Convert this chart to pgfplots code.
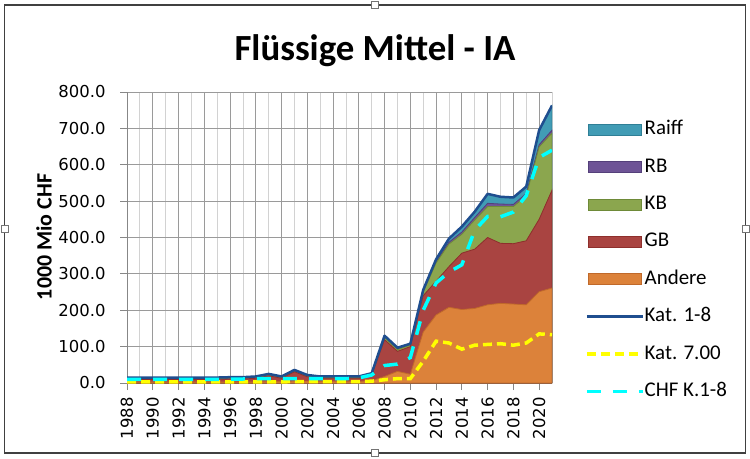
\documentclass[border=0pt]{standalone}
\usepackage{pgfplots}
\usepackage{pgfplotstable}
\pgfplotsset{compat=1.18}
\usepackage{fontspec}
\setmainfont{Carlito}
\newfontfamily\tickfont{DejaVu Sans}

\definecolor{andf}{HTML}{DC823A}
\definecolor{andd}{HTML}{C0692A}
\definecolor{gbf}{HTML}{A94441}
\definecolor{gbd}{HTML}{8E2F2C}
\definecolor{kbf}{HTML}{8BA64E}
\definecolor{kbd}{HTML}{6E8A38}
\definecolor{rbf}{HTML}{6E5496}
\definecolor{rbd}{HTML}{54407A}
\definecolor{raf}{HTML}{419CB5}
\definecolor{rad}{HTML}{2F7F96}
\definecolor{katc}{HTML}{1F4E8F}
\definecolor{yel}{HTML}{FFFF00}
\definecolor{cya}{HTML}{00FFFF}
\definecolor{gridd}{HTML}{9A9A9A}
\definecolor{gridl}{HTML}{D2D2D2}
\definecolor{axc}{HTML}{878787}

\pgfplotstableread{
year And GB KB RB Raiff Tot K7 CHF
1988 3 7 2 1 2 15 3 10
1989 3 7 2 1 2 15 3 10
1990 3 7 2 1 2 15 3 10
1991 3 7 2 1 2 15 3 10
1992 3 7 2 1 2 15 3 10
1993 3 7 2 1 2 15 3 10
1994 3 7 2 1 2 15 3 10
1995 3 7 2 1 2 15 3 10
1996 3 8 2 1 2 16 3 11
1997 3 8 2 1 2 16 3 11
1998 3 10 2 1 2 18 3 12
1999 4 16 2 1 2 25 3 12
2000 4 9 2 1 2 18 3 12
2001 5 26 2 1 2 36 4 12
2002 5 12 2 1 2 22 4 12
2003 4 9 2 1 2 18 4 12
2004 4 9 2 1 2 18 4 12
2005 4 9 2 1 2 18 4 12
2006 4 9 2 1 2 18 4 14
2007 6 16 2 1 2 27 5 22
2008 18 101 6 2 3 130 9 48
2009 32 55 5 2 3 97 12 52
2010 24 76 4 2 2 108 12 70
2011 140 100 10 3 3 256 60 200
2012 187 93 50 4 6 340 115 275
2013 208 112 62 5 10 397 110 305
2014 202 155 52 6 15 430 93 325
2015 205 163 80 7 16 471 104 420
2016 215 185 85 9 26 520 106 458
2017 219 165 101 7 20 512 108 457
2018 217 166 102 6 19 510 104 470
2019 215 176 124 6 19 540 110 515
2020 251 199 199 6 40 695 135 620
2021 261 269 157 8 68 763 133 640
}\datatable
\pgfplotstablecreatecol[expr={\thisrow{And}+\thisrow{GB}}]{cGB}\datatable
\pgfplotstablecreatecol[expr={\thisrow{cGB}+\thisrow{KB}}]{cKB}\datatable
\pgfplotstablecreatecol[expr={\thisrow{cKB}+\thisrow{RB}}]{cRB}\datatable
\pgfplotstablecreatecol[expr={\thisrow{cRB}+\thisrow{Raiff}}]{cRa}\datatable

\begin{document}
\begin{tikzpicture}
\useasboundingbox (0bp,0bp) rectangle (750bp,-459bp);
\draw[line width=1.2bp, black!75] (4.5bp,-5bp) rectangle (745.5bp,-453bp);
\foreach \px/\py in {375/-5,375/-453,4.5/-229,745.5/-229}
  \draw[fill=white, draw=black!55, line width=0.6bp] (\px bp-3.5bp,\py bp-3.5bp) rectangle (\px bp+3.5bp,\py bp+3.5bp);
\node[anchor=base, font=\bfseries\fontsize{37}{37}\selectfont] at (375bp,-60bp) {Flüssige Mittel - IA};
\node[rotate=90, font=\bfseries\fontsize{22}{22}\selectfont] at (44bp,-237bp) {1000 Mio CHF};
\begin{axis}[
  at={(127bp,-383bp)}, anchor=south west,
  scale only axis, width=425bp, height=291bp,
  xmin=1988, xmax=2021, ymin=0, ymax=800,
  xtick={1988,1990,...,2020}, minor xtick={1989,1991,...,2021},
  ytick={0,100,...,800},
  xmajorgrids, xminorgrids, ymajorgrids,
  major grid style={draw=gridd, line width=0.8bp},
  minor grid style={draw=gridl, line width=0.8bp},
  axis x line*=bottom, axis y line*=left,
  axis line style={draw=axc, line width=0.8bp, -},
  tick align=outside, major tick length=7bp, minor tick length=0pt,
  tick style={draw=axc, line width=0.8bp},
  xticklabel={\mbox{\tickfont\fontsize{16.5}{16.5}\selectfont\pgfmathprintnumber[assume math mode=true,1000 sep={}]{\tick}}},
  yticklabel={\mbox{\tickfont\fontsize{16.5}{16.5}\selectfont\pgfmathprintnumber[assume math mode=true,fixed,fixed zerofill,precision=1]{\tick}}},
  xticklabel style={rotate=90, anchor=east, xshift=-4bp},
  yticklabel style={xshift=-11bp},
  legend style={at={(1.0776,0.902)}, anchor=north west, draw=none, fill=none, inner sep=0pt,
    row sep=19.4bp, column sep=0bp, font=\fontsize{21}{21}\selectfont,
    nodes={inner sep=0pt, text height=14bp, text depth=4bp}},
  legend cell align=left,
]
\addlegendimage{legend image code/.code={\draw[fill=raf,draw=rad,line width=1bp] (2bp,-5.5bp) rectangle (55bp,5.5bp);}}
\addlegendentry{Raiff}
\addlegendimage{legend image code/.code={\draw[fill=rbf,draw=rbd,line width=1bp] (2bp,-5.5bp) rectangle (55bp,5.5bp);}}
\addlegendentry{RB}
\addlegendimage{legend image code/.code={\draw[fill=kbf,draw=kbd,line width=1bp] (2bp,-5.5bp) rectangle (55bp,5.5bp);}}
\addlegendentry{KB}
\addlegendimage{legend image code/.code={\draw[fill=gbf,draw=gbd,line width=1bp] (2bp,-5.5bp) rectangle (55bp,5.5bp);}}
\addlegendentry{GB}
\addlegendimage{legend image code/.code={\draw[fill=andf,draw=andd,line width=1bp] (2bp,-5.5bp) rectangle (55bp,5.5bp);}}
\addlegendentry{Andere}
\addlegendimage{legend image code/.code={\draw[draw=katc,line width=2.5bp] (0bp,0bp) -- (56bp,0bp);}}
\addlegendentry{Kat. 1-8}
\addlegendimage{legend image code/.code={\draw[draw=yel,line width=3.5bp,dash pattern=on 9bp off 5bp] (0bp,0bp) -- (56bp,0bp);}}
\addlegendentry{Kat. 7.00}
\addlegendimage{legend image code/.code={\draw[draw=cya,line width=3.5bp,dash pattern=on 14bp off 12bp] (0bp,0bp) -- (56bp,0bp);}}
\addlegendentry{CHF K.1-8}

\addplot[fill=raf, draw=rad, line width=0.8bp] table[x=year,y=cRa] {\datatable} \closedcycle;
\addplot[fill=rbf, draw=rbd, line width=0.8bp] table[x=year,y=cRB] {\datatable} \closedcycle;
\addplot[fill=kbf, draw=kbd, line width=0.8bp] table[x=year,y=cKB] {\datatable} \closedcycle;
\addplot[fill=gbf, draw=gbd, line width=0.8bp] table[x=year,y=cGB] {\datatable} \closedcycle;
\addplot[fill=andf, draw=andd, line width=0.8bp] table[x=year,y=And] {\datatable} \closedcycle;

\addplot[draw=katc, line width=2.5bp, line join=round] table[x=year,y=Tot] {\datatable};
\addplot[draw=yel, line width=3.5bp, dash pattern=on 9bp off 5bp] table[x=year,y=K7] {\datatable};
\addplot[draw=cya, line width=3.5bp, dash pattern=on 14bp off 12bp] table[x=year,y=CHF] {\datatable};
\end{axis}
\end{tikzpicture}
\end{document}
